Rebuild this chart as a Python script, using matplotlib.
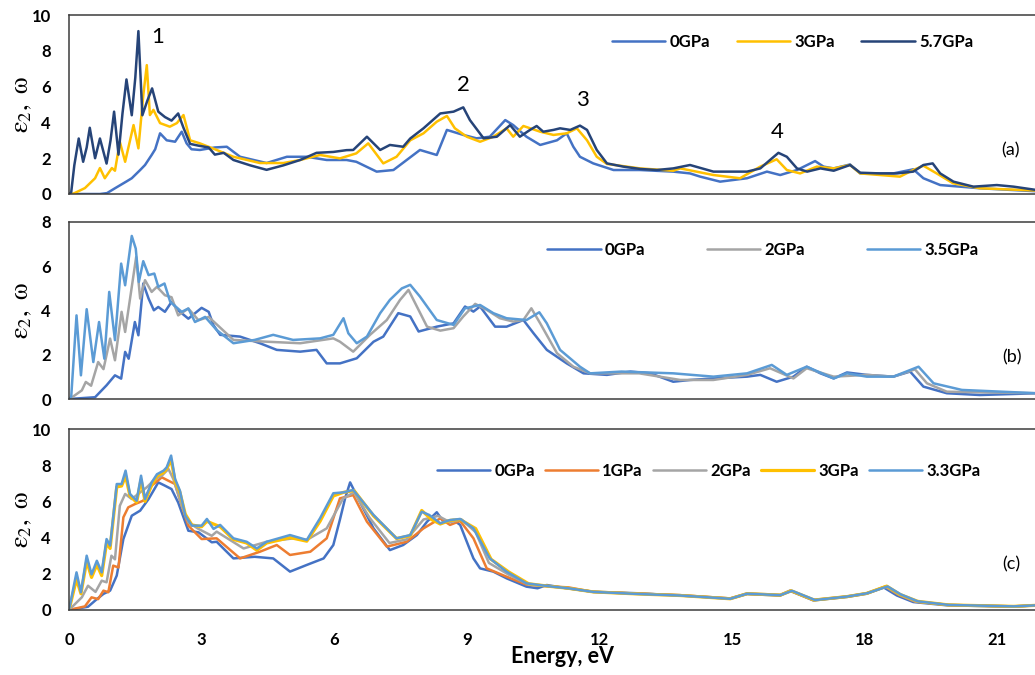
import matplotlib
matplotlib.use("Agg")
import matplotlib.pyplot as plt

plt.rcParams['font.family'] = ['Lato', 'DejaVu Sans']
plt.rcParams['mathtext.fontset'] = 'stix'

# ---------------- panel (a) ----------------
a_labels = ['0GPa', '3GPa', '5.7GPa']
a_colors = ['#4472C4', '#FFC000', '#264478']

a0_e = [0, 0.7, 0.86, 1.04, 1.3, 1.42, 1.61, 1.72, 1.87, 1.95, 2.06, 2.21, 2.4, 2.55, 2.66, 2.77, 2.96,
        3.3, 3.57, 3.87, 4.47, 4.93, 5.38, 5.83, 6.28, 6.5, 6.96, 7.34, 7.64, 7.94, 8.32, 8.55, 8.92,
        9.22, 9.52, 9.87, 10.05, 10.35, 10.66, 11.04, 11.26, 11.41, 11.56, 11.86, 12.32, 12.92, 13.67,
        14.05, 14.28, 14.73, 15.34, 15.79, 16.09, 16.47, 16.88, 17.07, 17.3, 17.67, 17.9, 18.65, 19.1,
        19.33, 19.71, 20.61, 21.9]
a0_v = [0, 0, 0.05, 0.32, 0.7, 0.88, 1.34, 1.62, 2.18, 2.5, 3.39, 3.0, 2.92, 3.48, 2.83, 2.5, 2.46,
        2.6, 2.64, 2.08, 1.73, 2.08, 2.08, 1.9, 1.9, 1.8, 1.25, 1.34, 1.9, 2.46, 2.18, 3.58, 3.3,
        3.11, 3.2, 4.13, 3.85, 3.2, 2.74, 3.0, 3.39, 2.64, 2.08, 1.71, 1.34, 1.34, 1.25,
        1.15, 0.97, 0.69, 0.88, 1.25, 1.06, 1.34, 1.84, 1.53, 1.43, 1.65, 1.15, 1.15, 1.38,
        0.88, 0.5, 0.32, 0.15]

a3_e = [0, 0.1, 0.36, 0.59, 0.7, 0.81, 0.97, 1.04, 1.15, 1.27, 1.46, 1.57, 1.68, 1.76, 1.83, 1.91,
        2.06, 2.28, 2.44, 2.59, 2.74, 2.96, 3.3, 3.72, 4.32, 4.85, 5.23, 5.68, 6.13, 6.5, 6.77, 7.11,
        7.41, 7.72, 8.02, 8.32, 8.55, 8.73, 9.0, 9.3, 9.6, 9.9, 10.05, 10.28, 10.66, 10.96, 11.26,
        11.49, 11.72, 11.94, 12.17, 12.92, 13.67, 13.83, 14.58, 15.18, 15.64, 16.01, 16.24, 16.54,
        16.92, 17.3, 17.67, 17.9, 18.8, 19.1, 19.33, 19.63, 20.0, 20.61, 21.9]
a3_v = [0, 0.02, 0.33, 0.88, 1.45, 0.88, 1.45, 1.3, 2.92, 1.8, 3.85, 2.55, 5.5, 7.2, 4.41, 4.7,
        3.96, 3.76, 3.96, 4.41, 3.0, 2.83, 2.5, 2.08, 1.73, 1.73, 1.9, 2.18, 1.99, 2.27, 2.83, 1.71,
        2.08, 3.0, 3.39, 4.04, 4.36, 3.67, 3.2, 2.92, 3.2, 3.67, 3.2, 3.8, 3.48, 3.3, 3.39,
        3.67, 3.0, 2.08, 1.68, 1.43, 1.3, 1.43, 1.06, 0.88, 1.53, 1.94, 1.34, 1.15,
        1.53, 1.43, 1.62, 1.15, 0.97, 1.34, 1.58, 1.15, 0.6, 0.32, 0.19]

a57_e = [0, 0.05, 0.12, 0.22, 0.32, 0.4, 0.47, 0.59, 0.7, 0.85, 0.94, 1.02, 1.12, 1.21, 1.3, 1.42,
         1.5, 1.57, 1.66, 1.77, 1.88, 2.02, 2.17, 2.32, 2.47, 2.59, 2.74, 2.93, 3.16, 3.3, 3.5, 3.72,
         4.1, 4.47, 4.85, 5.23, 5.6, 5.98, 6.28, 6.43, 6.74, 7.04, 7.26, 7.56, 7.72, 8.02, 8.4, 8.7,
         8.92, 9.07, 9.38, 9.68, 9.98, 10.2, 10.43, 10.58, 10.73, 10.96, 11.11, 11.34, 11.56, 11.72,
         11.94, 12.17, 12.54, 12.92, 13.3, 13.67, 14.05, 14.58, 15.34, 15.64, 15.86, 16.05, 16.24,
         16.47, 16.7, 17.0, 17.3, 17.67, 17.9, 18.35, 18.73, 19.1, 19.33, 19.54, 19.71, 20.01, 20.46,
         20.99, 21.37, 21.9]
a57_v = [0, 0.1, 1.6, 3.1, 1.8, 2.6, 3.7, 2.0, 3.1, 1.7, 3.0, 4.6, 2.2, 4.5, 6.4, 4.4,
         6.5, 9.1, 4.4, 5.2, 5.9, 4.6, 4.3, 4.1, 4.5, 3.7, 2.8, 2.7, 2.6, 2.2, 2.3, 1.9,
         1.6, 1.35, 1.6, 1.9, 2.3, 2.35, 2.45, 2.46, 3.2, 2.46, 2.74, 2.64, 3.1, 3.67, 4.5, 4.6,
         4.84, 4.13, 3.11, 3.2, 3.85, 3.2, 3.58, 3.8, 3.48, 3.58, 3.67, 3.58, 3.82, 3.58,
         2.46, 1.71, 1.53, 1.4, 1.34, 1.43, 1.62, 1.25, 1.25, 1.43, 1.9, 2.3, 2.08,
         1.43, 1.25, 1.43, 1.3, 1.62, 1.19, 1.15, 1.15, 1.25, 1.62, 1.71, 1.15, 0.69, 0.41,
         0.5, 0.41, 0.22]

# ---------------- panel (b) ----------------
b_labels = ['0GPa', '2GPa', '3.5GPa']
b_colors = ['#4472C4', '#A5A5A5', '#5B9BD5']

b0_e = [0, 0.59, 0.85, 1.04, 1.18, 1.27, 1.35, 1.49, 1.57, 1.68, 1.8, 1.92, 2.02, 2.17, 2.32, 2.47,
        2.7, 3.0, 3.16, 3.27, 3.42, 3.87, 4.32, 4.7, 5.23, 5.6, 5.83, 6.13, 6.51, 6.89, 7.11, 7.45,
        7.72, 7.91, 8.32, 8.7, 8.96, 9.15, 9.3, 9.64, 9.9, 10.28, 10.51, 10.81, 11.26, 11.64, 12.17,
        12.7, 13.15, 13.67, 14.05, 14.58, 15.34, 15.64, 16.01, 16.39, 16.69, 17.0, 17.3, 17.6, 18.05,
        18.65, 19.03, 19.33, 19.86, 20.61, 21.9]
b0_v = [0, 0.08, 0.62, 1.07, 0.92, 2.13, 1.82, 3.48, 2.88, 5.22, 4.54, 4.01, 4.16, 3.94, 4.39, 4.01,
        3.63, 4.12, 3.94, 3.33, 2.9, 2.82, 2.52, 2.22, 2.14, 2.22, 1.61, 1.61, 1.84, 2.59, 2.82, 3.88,
        3.73, 3.05, 3.27, 3.42, 4.18, 3.95, 4.18, 3.27, 3.27, 3.57, 2.97, 2.22, 1.61, 1.16, 1.09,
        1.24, 1.16, 0.78, 0.86, 0.93, 1.01, 1.09, 0.78, 1.01, 1.46, 1.16, 0.93, 1.2, 1.09,
        1.01, 1.24, 0.56, 0.26, 0.18, 0.26]

b2_e = [0, 0.05, 0.29, 0.38, 0.5, 0.66, 0.78, 0.93, 1.04, 1.19, 1.27, 1.52, 1.61, 1.72, 1.87, 1.99,
        2.17, 2.32, 2.47, 2.7, 2.93, 3.16, 3.72, 4.47, 5.23, 5.98, 6.13, 6.43, 6.81, 7.19, 7.49, 7.68,
        7.87, 8.1, 8.4, 8.7, 8.92, 9.19, 9.45, 9.75, 10.05, 10.28, 10.46, 10.66, 11.04, 11.41, 11.79,
        12.9, 13.83, 14.58, 15.34, 15.86, 16.39, 16.69, 17.3, 18.05, 18.65, 19.14, 19.41, 19.86, 21.9]
b2_v = [0, 0.05, 0.39, 0.77, 0.6, 1.67, 1.35, 2.73, 1.75, 3.94, 3.03, 6.42, 4.54, 5.37, 4.84, 5.07,
        4.69, 4.6, 3.78, 4.09, 3.56, 3.71, 2.67, 2.59, 2.52, 2.74, 2.59, 2.14, 2.9, 3.57, 4.48, 4.93,
        4.18, 3.27, 3.09, 3.2, 3.73, 4.3, 4.03, 3.65, 3.5, 3.57, 4.1, 3.42, 2.07, 1.46, 1.16,
        1.16, 0.86, 0.86, 1.09, 1.39, 0.93, 1.39, 1.01, 1.09, 1.01, 1.34, 0.71, 0.33, 0.26]

b35_e = [0, 0.05, 0.17, 0.27, 0.4, 0.55, 0.68, 0.8, 0.91, 1.04, 1.18, 1.27, 1.42, 1.51, 1.58, 1.68,
         1.8, 1.93, 2.02, 2.16, 2.29, 2.55, 2.7, 2.85, 3.08, 3.34, 3.72, 4.2, 4.62, 5.07, 5.68, 5.98,
         6.21, 6.32, 6.51, 6.74, 7.04, 7.26, 7.53, 7.72, 7.94, 8.32, 8.7, 8.96, 9.3, 9.6, 9.9, 10.35,
         10.64, 10.81, 11.11, 11.56, 11.79, 12.5, 13.67, 14.58, 15.34, 15.9, 16.24, 16.69, 17.3,
         17.6, 18.05, 18.65, 19.22, 19.56, 20.2, 21.9]
b35_v = [0, 0.1, 3.78, 1.07, 4.06, 1.67, 3.48, 1.82, 4.84, 2.66, 6.12, 5.14, 7.37, 6.8, 5.29, 6.23,
         5.6, 5.67, 5.07, 5.22, 4.39, 3.94, 4.09, 3.48, 3.71, 3.12, 2.52, 2.67, 2.9, 2.67, 2.74, 2.9,
         3.65, 2.97, 2.52, 2.82, 3.88, 4.48, 5.0, 5.16, 4.63, 3.57, 3.35, 4.1, 4.25, 3.88, 3.65, 3.57,
         3.92, 3.42, 2.22, 1.46, 1.16, 1.24, 1.16, 1.01, 1.16, 1.54, 1.09, 1.46, 0.93,
         1.16, 1.01, 1.01, 1.46, 0.71, 0.41, 0.26]

# ---------------- panel (c) ----------------
c_labels = ['0GPa', '1GPa', '2GPa', '3GPa', '3.3GPa']
c_colors = ['#4472C4', '#ED7D31', '#A5A5A5', '#FFC000', '#5B9BD5']

c0_e = [0, 0.43, 0.63, 0.78, 0.93, 1.08, 1.23, 1.42, 1.61, 1.8, 2.02, 2.17, 2.32, 2.47, 2.7, 2.93,
        3.23, 3.34, 3.72, 4.2, 4.62, 5.0, 5.38, 5.76, 5.98, 6.13, 6.25, 6.36, 6.58, 6.89, 7.26, 7.56,
        7.87, 8.1, 8.32, 8.47, 8.7, 8.85, 9.0, 9.15, 9.3, 9.6, 9.9, 10.35, 10.6, 10.81, 11.26, 11.86,
        12.92, 13.83, 14.5, 14.96, 15.34, 16.09, 16.32, 16.84, 17.6, 18.05, 18.43, 18.73, 19.1,
        19.86, 21.37, 21.9]
c0_v = [0, 0.18, 0.6, 0.89, 1.07, 1.9, 3.92, 5.21, 5.49, 6.13, 7.05, 6.87, 6.68, 5.94, 4.38, 4.29,
        3.74, 3.77, 2.85, 2.94, 2.85, 2.12, 2.49, 2.85, 3.59, 5.0, 6.2, 7.05, 5.98, 4.51, 3.31, 3.59,
        4.14, 4.88, 5.4, 4.88, 4.97, 4.7, 3.77, 2.85, 2.3, 2.12, 1.75, 1.29, 1.2, 1.38, 1.2, 1.01,
        0.92, 0.8, 0.7, 0.62, 0.88, 0.8, 1.05, 0.53, 0.72, 0.9, 1.25, 0.8, 0.44,
        0.26, 0.18, 0.26]

c1_e = [0, 0.36, 0.51, 0.66, 0.78, 0.89, 1.0, 1.12, 1.23, 1.34, 1.49, 1.68, 1.87, 2.1, 2.25, 2.4,
        2.55, 2.7, 3.0, 3.34, 3.87, 4.32, 4.7, 5.0, 5.46, 5.83, 6.13, 6.43, 6.74, 7.19, 7.64, 8.02,
        8.4, 8.62, 8.85, 9.15, 9.45, 9.9, 10.35, 10.9, 11.3, 11.86, 12.92, 13.83, 14.96, 15.34,
        16.09, 16.32, 16.84, 17.6, 18.05, 18.47, 18.78, 19.15, 19.9, 21.37, 21.9]
c1_v = [0, 0.2, 0.7, 0.6, 1.07, 0.98, 2.45, 2.35, 5.12, 5.67, 5.85, 6.04, 6.87, 7.33, 7.14, 6.96,
        5.76, 4.66, 3.92, 3.96, 2.85, 3.22, 3.59, 3.04, 3.22, 3.96, 6.17, 6.35, 4.88, 3.5, 3.77, 4.51,
        5.06, 4.7, 4.92, 3.96, 2.3, 1.84, 1.4, 1.3, 1.25, 1.0, 0.9, 0.82, 0.64, 0.9,
        0.82, 1.07, 0.55, 0.74, 0.92, 1.29, 0.83, 0.46, 0.28, 0.2, 0.26]

c2_e = [0, 0.29, 0.43, 0.6, 0.74, 0.85, 0.96, 1.04, 1.15, 1.27, 1.42, 1.61, 1.76, 1.95, 2.1, 2.25,
        2.36, 2.55, 2.7, 2.93, 3.23, 3.34, 3.95, 4.47, 5.08, 5.38, 5.83, 6.2, 6.45, 6.8, 7.25, 7.64,
        8.02, 8.35, 8.62, 8.88, 9.2, 9.5, 9.95, 10.4, 10.9, 11.3, 11.86, 12.92, 13.83, 14.96, 15.34,
        16.09, 16.32, 16.84, 17.6, 18.05, 18.47, 18.78, 19.15, 19.9, 21.37, 21.9]
c2_v = [0, 0.7, 1.34, 1.0, 1.62, 1.53, 3.0, 2.8, 5.76, 6.41, 6.13, 6.5, 6.78, 7.24, 7.42, 7.79,
        7.24, 5.76, 4.84, 4.48, 4.1, 4.33, 3.4, 3.77, 3.96, 3.87, 4.51, 6.16, 6.5, 5.1, 3.7, 3.9,
        5.0, 5.2, 4.85, 5.0, 4.3, 2.6, 1.95, 1.4, 1.3, 1.2, 1.0, 0.9, 0.82, 0.64, 0.92,
        0.84, 1.08, 0.56, 0.75, 0.93, 1.3, 0.85, 0.47, 0.28, 0.2, 0.26]

c3_e = [0, 0.17, 0.27, 0.4, 0.51, 0.63, 0.74, 0.85, 0.93, 1.08, 1.19, 1.28, 1.38, 1.53, 1.63, 1.72,
        1.87, 1.99, 2.14, 2.21, 2.31, 2.4, 2.51, 2.63, 2.78, 3.0, 3.12, 3.42, 3.72, 4.02, 4.25, 4.47,
        5.0, 5.38, 5.68, 5.98, 6.21, 6.45, 6.89, 7.41, 7.72, 7.98, 8.2, 8.4, 8.62, 8.85, 9.2, 9.55,
        9.95, 10.4, 10.9, 11.3, 11.86, 12.92, 13.83, 14.96, 15.34, 16.09, 16.34, 16.86, 17.6, 18.05,
        18.5, 18.8, 19.2, 19.9, 21.37, 21.9]
c3_v = [0, 1.7, 0.9, 2.7, 1.8, 2.5, 1.9, 3.7, 3.4, 6.8, 6.85, 7.4, 6.3, 5.95, 7.2, 6.0,
        6.9, 7.4, 7.6, 7.8, 8.3, 7.1, 6.5, 5.3, 4.7, 4.6, 4.9, 4.6, 3.9, 3.7, 3.3, 3.7,
        4.0, 3.8, 4.9, 6.3, 6.5, 6.6, 5.2, 3.95, 4.1, 5.5, 5.0, 4.75, 4.95, 5.0, 4.5, 2.8,
        2.1, 1.45, 1.3, 1.2, 1.0, 0.88, 0.8, 0.62, 0.9, 0.82, 1.06, 0.55, 0.74, 0.92,
        1.32, 0.86, 0.48, 0.28, 0.2, 0.26]

c33_e = [0, 0.17, 0.27, 0.4, 0.51, 0.63, 0.74, 0.85, 0.93, 1.08, 1.19, 1.28, 1.38, 1.53, 1.63, 1.72,
         1.87, 1.99, 2.14, 2.21, 2.31, 2.4, 2.51, 2.63, 2.78, 3.0, 3.12, 3.27, 3.42, 3.72, 4.02, 4.25,
         4.47, 5.0, 5.38, 5.68, 5.98, 6.21, 6.43, 6.89, 7.41, 7.72, 7.98, 8.15, 8.4, 8.62, 8.85, 9.15,
         9.52, 9.9, 10.35, 10.9, 11.3, 11.86, 12.92, 13.83, 14.96, 15.34, 16.09, 16.36, 16.88, 17.6,
         18.05, 18.52, 18.82, 19.2, 19.9, 21.37, 21.9]
c33_v = [0, 2.08, 0.98, 3.0, 1.97, 2.72, 2.08, 3.92, 3.56, 6.96, 6.96, 7.7, 6.41, 6.04, 7.42, 6.13,
         7.05, 7.5, 7.7, 7.88, 8.53, 7.24, 6.59, 5.21, 4.66, 4.66, 5.03, 4.48, 4.7, 3.96, 3.77, 3.4,
         3.77, 4.14, 3.87, 5.07, 6.45, 6.5, 6.63, 5.25, 3.96, 4.14, 5.43, 5.25, 4.79, 4.97, 5.03, 4.51,
         2.85, 2.12, 1.47, 1.3, 1.2, 1.0, 0.88, 0.8, 0.62, 0.9, 0.82, 1.06, 0.55, 0.74,
         0.92, 1.3, 0.86, 0.48, 0.28, 0.2, 0.26]

peak_names = ['1', '2', '3', '4']
peak_pos = [(2.01, 8.77), (8.92, 6.09), (11.61, 5.25), (16.02, 3.46)]

x_ticks = [0, 3, 6, 9, 12, 15, 18, 21]

fig = plt.figure(figsize=(10.35, 6.75), dpi=100)
L, W = 69 / 1035, (1037 - 69) / 1035
ax_a = fig.add_axes([L, 1 - 194 / 675, W, 179 / 675])
ax_b = fig.add_axes([L, 1 - 399 / 675, W, 177 / 675])
ax_c = fig.add_axes([L, 1 - 610 / 675, W, 181 / 675])

ylab = r'$\mathrm{\varepsilon_2,\ \omega}$'


def style(ax, ymax, show_x):
    ax.set_xlim(0, 21.9)
    ax.set_ylim(0, ymax)
    ax.set_yticks(range(0, ymax + 1, 2))
    ax.set_xticks(x_ticks)
    ax.tick_params(axis='y', length=0, pad=13, labelsize=12)
    ax.tick_params(axis='x', length=0, pad=16, labelsize=12, labelbottom=show_x)
    for lab in ax.get_yticklabels() + ax.get_xticklabels():
        lab.set_fontweight('bold')
    for s in ['left', 'bottom', 'top']:
        ax.spines[s].set_color('#3c3c3c')
        ax.spines[s].set_linewidth(1.1)
    ax.spines['right'].set_visible(False)
    ax.text(-0.049, 0.5, ylab, transform=ax.transAxes, rotation=90,
            ha='center', va='center', fontsize=19)


def legend(ax, x0, y0, spacing):
    ax.legend(loc='center left', bbox_to_anchor=(x0, y0), ncol=5, frameon=False,
              prop={'weight': 'bold', 'size': 12}, handlelength=3.2,
              handletextpad=0.25, columnspacing=spacing, borderpad=0, borderaxespad=0)


lw = 1.8
kw = dict(solid_joinstyle='round', solid_capstyle='round')
# (a)
for e, v, lab, col in zip([a0_e, a3_e, a57_e], [a0_v, a3_v, a57_v], a_labels, a_colors):
    ax_a.plot(e, v, color=col, lw=lw, label=lab, **kw)
style(ax_a, 10, False)
legend(ax_a, 0.561, 0.849, 1.6)
for name, (px, py) in zip(peak_names, peak_pos):
    ax_a.text(px, py, name, ha='center', va='center', fontsize=16)
ax_a.text(21.31, 2.46, '(a)', ha='center', va='center', fontsize=13)

# (b)
for e, v, lab, col in zip([b0_e, b2_e, b35_e], [b0_v, b2_v, b35_v], b_labels, b_colors):
    ax_b.plot(e, v, color=col, lw=lw, label=lab, **kw)
style(ax_b, 8, False)
legend(ax_b, 0.494, 0.842, 3.7)
ax_b.text(21.33, 1.9, '(b)', ha='center', va='center', fontsize=13)

# (c)
c_series = [(c0_e, c0_v), (c1_e, c1_v), (c2_e, c2_v), (c3_e, c3_v), (c33_e, c33_v)]
for (e, v), lab, col in zip(c_series, c_labels, c_colors):
    ax_c.plot(e, v, color=col, lw=2.3 if lab == '3GPa' else lw, label=lab, **kw)
style(ax_c, 10, True)
legend(ax_c, 0.380, 0.768, 0.6)
ax_c.text(21.33, 2.54, '(c)', ha='center', va='center', fontsize=13)
ax_c.set_xlabel('Energy, eV', fontsize=15.5, fontweight='bold')
ax_c.xaxis.set_label_coords(0.51, -0.2)

fig.savefig('out.png', dpi=100)
